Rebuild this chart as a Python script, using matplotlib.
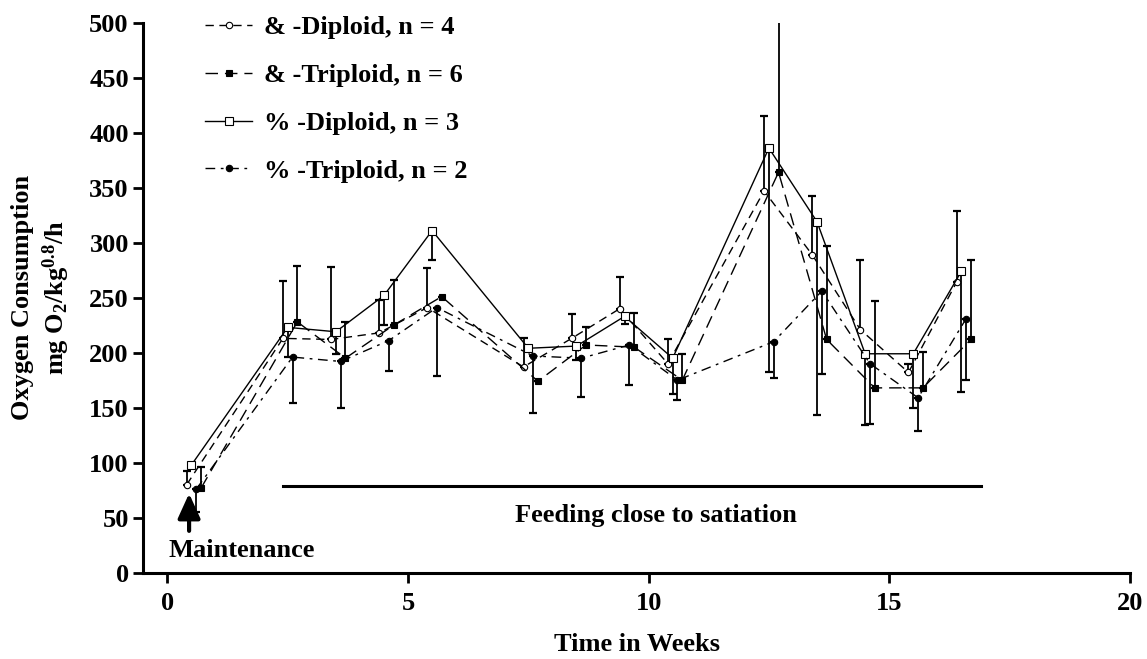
import matplotlib
matplotlib.use("Agg")
import matplotlib.pyplot as plt
import numpy as np

plt.rcParams['font.family'] = ['Liberation Serif', 'DejaVu Serif']
plt.rcParams['font.weight'] = 'bold'
plt.rcParams['mathtext.fontset'] = 'custom'
plt.rcParams['mathtext.rm'] = 'Liberation Serif:bold'
plt.rcParams['mathtext.it'] = 'Liberation Serif:bold'
plt.rcParams['mathtext.bf'] = 'Liberation Serif:bold'

# ---- data ----
weeks = [0.5, 2.5, 3.5, 4.5, 5.5, 7.5, 8.5, 9.5, 10.5, 12.5, 13.5, 14.5, 15.5, 16.5]

labels = ["& -Diploid, n = 4", "& -Triploid, n = 6", "% -Diploid, n = 3", "% -Triploid, n = 2"]

male_dip = [80, 213, 212, 218, 241, 187, 213, 240, 190, 347, 289, 221, 182, 264]
male_dip_up = [12, 52, 66, 30, 36, 26, 22, 29, 22, 68, 53, 63, 8, 65]
male_dip_dn = [0, 0, 0, 0, 0, 0, 0, 0, 0, 0, 0, 0, 0, 0]

male_tri = [77, 228, 195, 225, 251, 174, 207, 205, 175, 364, 212, 168, 168, 212]
male_tri_up = [19, 51, 33, 41, 0, 0, 16, 31, 24, 200, 85, 79, 33, 72]
male_tri_dn = [0, 0, 0, 0, 0, 0, 0, 0, 0, 0, 0, 0, 0, 0]

fem_dip = [98, 223, 219, 252, 311, 204, 206, 233, 195, 386, 319, 199, 199, 274]
fem_dip_up = [0, 0, 0, 0, 0, 0, 0, 0, 0, 0, 0, 0, 0, 0]
fem_dip_dn = [0, 27, 20, 27, 27, 0, 13, 7, 33, 204, 176, 65, 49, 110]

fem_tri = [76, 196, 192, 211, 241, 197, 195, 207, 175, 210, 256, 190, 159, 231]
fem_tri_up = [0, 0, 0, 0, 0, 0, 0, 0, 0, 0, 0, 0, 0, 0]
fem_tri_dn = [21, 42, 42, 28, 62, 52, 35, 36, 18, 33, 75, 55, 30, 56]

series = [
    (male_dip, male_dip_dn, male_dip_up),
    (male_tri, male_tri_dn, male_tri_up),
    (fem_dip, fem_dip_dn, fem_dip_up),
    (fem_tri, fem_tri_dn, fem_tri_up),
]

# ---- styles ----
offsets = [-0.1, 0.2, 0.0, 0.1]
styles = [
    dict(linestyle=(0, (6, 4)), marker='o', markerfacecolor='white', markersize=4.6),
    dict(linestyle=(0, (9, 5)), marker='s', markerfacecolor='black', markersize=5.0),
    dict(linestyle='-', marker='s', markerfacecolor='white', markersize=5.2),
    dict(linestyle=(0, (7, 4, 2, 4)), marker='o', markerfacecolor='black', markersize=4.6),
]

fig = plt.figure(figsize=(11.47, 6.59), dpi=100)
ax = fig.add_axes([0.125, 0.131, 0.860, 0.8346])

wk = np.array(weeks)
handles = []
for (vals, dn, up), off, st, lab in zip(series, offsets, styles, labels):
    x = wk + off
    ax.errorbar(x, vals, yerr=[dn, up], fmt='none', ecolor='black',
                elinewidth=1.3, capsize=3.2, capthick=1.6, zorder=1)
    h, = ax.plot(x, vals, color='black', linewidth=1.0, markeredgecolor='black',
                 markeredgewidth=0.8, zorder=3, label=lab, **st)
    handles.append(h)

# feeding line
ax.plot([2.4, 16.9], [79, 79], color='black', linewidth=2.2, zorder=2)
ax.text(10.15, 52, "Feeding close to satiation", ha='center', va='center',
        fontsize=19, fontweight='bold')

# maintenance arrow
ax.annotate('', xy=(0.45, 72), xytext=(0.45, 38),
            arrowprops=dict(arrowstyle='-|>,head_width=0.34,head_length=0.75',
                            lw=3.0, color='black', mutation_scale=20,
                            shrinkA=0, shrinkB=0))
ax.text(1.55, 20, "Maintenance", ha='center', va='center', fontsize=19, fontweight='bold')

ax.set_xlim(-0.5, 20)
ax.set_ylim(0, 500)
ax.set_xticks([0, 5, 10, 15, 20])
ax.set_yticks(np.arange(0, 501, 50))
ax.spines['top'].set_visible(False)
ax.spines['right'].set_visible(False)
for s in ['left', 'bottom']:
    ax.spines[s].set_linewidth(2.2)
ax.tick_params(axis='both', direction='out', length=7, width=2.0, labelsize=19)
ax.tick_params(axis='x', pad=7)
for lab in ax.get_xticklabels() + ax.get_yticklabels():
    lab.set_fontweight('bold')

ax.set_xlabel("Time in Weeks", fontsize=19, fontweight='bold', labelpad=13)
ax.set_ylabel("Oxygen Consumption\nmg O$_{2}$/kg$^{0.8}$/h", fontsize=19,
              fontweight='bold', labelpad=12, linespacing=1.3)

leg = ax.legend(handles=handles, loc='upper left',
                bbox_to_anchor=(205 / 1147, 1 - 16 / 659),
                bbox_transform=fig.transFigure, frameon=False,
                handlelength=1.8, handletextpad=0.45,
                labelspacing=0.92, borderpad=0, borderaxespad=0,
                prop={'weight': 'bold', 'size': 19})

fig.savefig("out.png", dpi=100)
